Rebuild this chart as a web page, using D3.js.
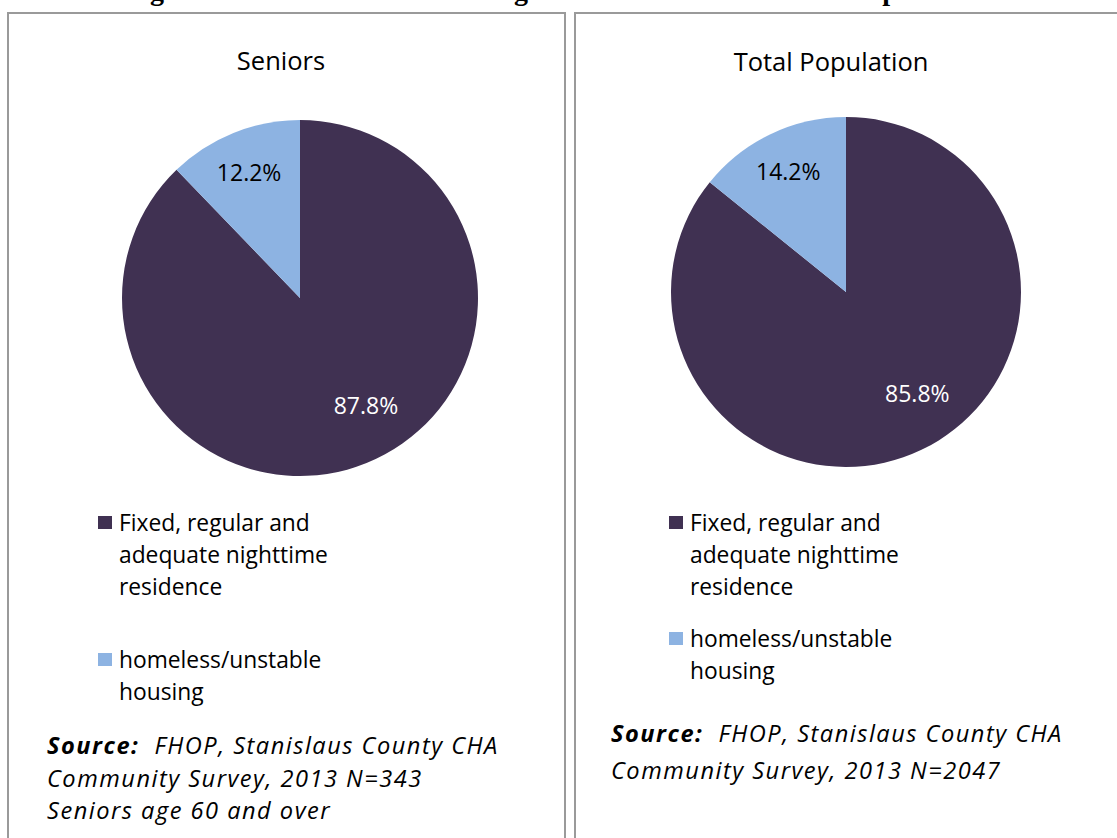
<!DOCTYPE html>
<html>
<head>
<meta charset="utf-8">
<script src="https://cdn.jsdelivr.net/npm/d3@7"></script>
<style>
  html, body { margin: 0; padding: 0; background: #fff; }
  svg { display: block; }
</style>
</head>
<body>
<svg id="chart" width="1117" height="838"></svg>
<script>
// ---- data ----
const panelTitles = ["Seniors", "Total Population"];
const categories = ["Fixed, regular and adequate nighttime residence", "homeless/unstable housing"];
const legendLines = [["Fixed, regular and", "adequate nighttime", "residence"], ["homeless/unstable", "housing"]];
const seniorsValues = [87.8, 12.2];
const totalValues = [85.8, 14.2];
const seniorsSource = ["Community Survey, 2013 N=343", "Seniors age 60 and over"];
const totalSource = ["Community Survey, 2013 N=2047"];
const sourceLead = "Source:";
const sourceRest = "  FHOP, Stanislaus County CHA";
const titleFragments = ["g", "g", "p"];

// ---- styles / layout ----
const colors = ["#403152", "#8db3e2"];
const labelColors = ["#ffffff", "#000000"];
const FONT = "'Open Sans', 'Noto Sans', sans-serif";
const svg = d3.select("#chart");

// cut-off title descenders (the reference title is cropped at the top edge)
const fragX = [157, 521, 890];
svg.selectAll("text.frag").data(titleFragments).join("text")
  .attr("class", "frag")
  .attr("x", (d, i) => fragX[i])
  .attr("y", 0)
  .attr("text-anchor", "middle")
  .attr("font-family", "'Liberation Serif', 'DejaVu Serif', serif")
  .attr("font-weight", "bold")
  .attr("font-size", 28)
  .attr("fill", "#000")
  .text(d => d);

const panels = [
  { title: panelTitles[0], values: seniorsValues, source: seniorsSource,
    box: [8, 13, 557, 900], titleX: 281, titleY: 60, cx: 300, cy: 298, r: 178,
    legX: 98, legY: [522, 659], srcX: 47, srcY: 745, srcGap: 32.5 },
  { title: panelTitles[1], values: totalValues, source: totalSource,
    box: [575, 13, 600, 900], titleX: 831, titleY: 61, cx: 846, cy: 292, r: 175,
    legX: 669, legY: [522, 638], srcX: 611, srcY: 733, srcGap: 37 }
];

const pie = d3.pie().sort(null).value(d => d);
const labelRadiusFrac = [0.705, 0.765];
const labelAngleShift = [-0.17, 0];
const SRC_SIZE = 23.6, SRC_SPACING = 1.5;

panels.forEach(p => {
  const g = svg.append("g");
  g.append("rect")
    .attr("x", p.box[0]).attr("y", p.box[1])
    .attr("width", p.box[2]).attr("height", p.box[3])
    .attr("fill", "none").attr("stroke", "#9a9a9a").attr("stroke-width", 2);

  g.append("text")
    .attr("x", p.titleX).attr("y", p.titleY)
    .attr("text-anchor", "middle").attr("dominant-baseline", "central")
    .attr("font-family", FONT).attr("font-size", 25.5).attr("fill", "#000")
    .text(p.title);

  const arcs = pie(p.values);
  const arc = d3.arc().innerRadius(0).outerRadius(p.r);
  const pg = g.append("g").attr("transform", `translate(${p.cx},${p.cy})`);
  pg.selectAll("path").data(arcs).join("path")
    .attr("d", arc)
    .attr("fill", (d, i) => colors[i]);

  pg.selectAll("text").data(arcs).join("text")
    .attr("transform", (d, i) => {
      const a = (d.startAngle + d.endAngle) / 2 + labelAngleShift[i];
      const rr = p.r * labelRadiusFrac[i];
      return `translate(${Math.sin(a) * rr},${-Math.cos(a) * rr})`;
    })
    .attr("text-anchor", "middle").attr("dominant-baseline", "central")
    .attr("font-family", FONT).attr("font-size", 23)
    .attr("fill", (d, i) => labelColors[i])
    .text(d => d.data.toFixed(1) + "%");

  // legend
  categories.forEach((c, i) => {
    const lg = g.append("g");
    lg.append("rect")
      .attr("x", p.legX).attr("y", p.legY[i] - 6)
      .attr("width", 14).attr("height", 13)
      .attr("fill", colors[i]);
    legendLines[i].forEach((ln, j) => {
      lg.append("text")
        .attr("x", p.legX + 21).attr("y", p.legY[i] + j * 32)
        .attr("dominant-baseline", "central")
        .attr("font-family", FONT).attr("font-size", 22.8).attr("fill", "#000")
        .text(ln);
    });
  });

  // source
  const s = g.append("text")
    .attr("x", p.srcX).attr("y", p.srcY)
    .attr("dominant-baseline", "central")
    .attr("font-family", FONT).attr("font-size", SRC_SIZE).attr("font-style", "italic")
    .attr("letter-spacing", SRC_SPACING)
    .attr("fill", "#000")
    .attr("xml:space", "preserve");
  s.append("tspan").attr("font-weight", "bold").text(sourceLead);
  s.append("tspan").text(sourceRest);
  p.source.forEach((ln, j) => {
    g.append("text")
      .attr("x", p.srcX).attr("y", p.srcY + (j + 1) * p.srcGap)
      .attr("dominant-baseline", "central")
      .attr("font-family", FONT).attr("font-size", SRC_SIZE).attr("font-style", "italic")
      .attr("letter-spacing", SRC_SPACING)
      .attr("fill", "#000")
      .text(ln);
  });
});
</script>
</body>
</html>
